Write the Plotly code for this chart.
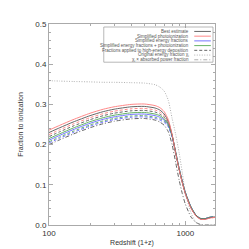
import plotly.graph_objects as go

z = [100, 120, 150, 200, 250, 300, 400, 500, 600, 650, 700, 750, 800, 850, 900, 950, 1000, 1100, 1200, 1300, 1400, 1500, 1650]

best = [0.230, 0.242, 0.256, 0.272, 0.282, 0.288, 0.294, 0.295, 0.291, 0.286, 0.276, 0.258, 0.224, 0.179, 0.139, 0.106, 0.079, 0.043, 0.023, 0.015, 0.015, 0.018, 0.020]
simp_photo = [0.236, 0.248, 0.262, 0.278, 0.288, 0.294, 0.300, 0.301, 0.297, 0.292, 0.282, 0.262, 0.225, 0.178, 0.138, 0.105, 0.078, 0.042, 0.022, 0.014, 0.014, 0.017, 0.019]
simp_energy = [0.211, 0.223, 0.237, 0.253, 0.263, 0.269, 0.275, 0.276, 0.272, 0.268, 0.261, 0.248, 0.221, 0.181, 0.141, 0.108, 0.081, 0.045, 0.024, 0.016, 0.016, 0.019, 0.021]
simp_both = [0.215, 0.227, 0.241, 0.257, 0.267, 0.273, 0.279, 0.280, 0.276, 0.272, 0.264, 0.250, 0.222, 0.181, 0.141, 0.108, 0.081, 0.045, 0.024, 0.016, 0.016, 0.019, 0.021]

best_hi = [0.220, 0.232, 0.246, 0.262, 0.272, 0.278, 0.284, 0.285, 0.281, 0.276, 0.268, 0.252, 0.221, 0.179, 0.139, 0.106, 0.079, 0.043, 0.023, 0.015, 0.015, 0.018, 0.020]
simp_photo_hi = [0.225, 0.237, 0.251, 0.267, 0.277, 0.283, 0.289, 0.290, 0.286, 0.281, 0.272, 0.255, 0.222, 0.178, 0.138, 0.105, 0.078, 0.042, 0.022, 0.014, 0.014, 0.017, 0.019]
simp_energy_hi = [0.204, 0.216, 0.230, 0.246, 0.256, 0.262, 0.268, 0.269, 0.265, 0.261, 0.255, 0.244, 0.219, 0.181, 0.141, 0.108, 0.081, 0.045, 0.024, 0.016, 0.016, 0.019, 0.021]
simp_both_hi = [0.207, 0.219, 0.233, 0.249, 0.259, 0.265, 0.271, 0.272, 0.268, 0.264, 0.258, 0.246, 0.220, 0.181, 0.141, 0.108, 0.081, 0.045, 0.024, 0.016, 0.016, 0.019, 0.021]

chi_orig = [0.359, 0.358, 0.357, 0.356, 0.355, 0.355, 0.354, 0.353, 0.349, 0.343, 0.333, 0.310, 0.265, 0.225, 0.180, 0.130, 0.080, 0.030, 0.006, 0.001, 0.0, 0.0, 0.0]
chi_absorbed = [0.200, 0.212, 0.226, 0.242, 0.252, 0.258, 0.264, 0.265, 0.261, 0.256, 0.248, 0.232, 0.200, 0.155, 0.112, 0.078, 0.052, 0.020, 0.006, 0.001, 0.0, 0.0, 0.0]

legend_labels = ["Best estimate", "Simplified photoionization", "Simplified energy fractions",
                 "Simplified energy fractions + photoionization",
                 "Fractions applied to high-energy deposition",
                 "Original energy fraction χ<sub>i</sub>",
                 "χ<sub>i</sub> × absorbed power fraction"]

BLACK = "#555555"
RED = "#ff7a7a"
BLUE = "#6666ff"
GREEN = "#55aa55"
GRAY = "#a8a8a8"
DASH = "3px,2px"
DOT = "1px,1.5px"
DASHDOT = "4px,2px,1px,2px"

series = [
    (simp_photo_hi, RED, DASH),
    (best_hi, BLACK, DASH),
    (simp_both_hi, GREEN, DASH),
    (simp_energy_hi, BLUE, DASH),
    (chi_absorbed, BLACK, DASHDOT),
    (chi_orig, GRAY, DOT),
    (simp_energy, BLUE, "solid"),
    (simp_both, GREEN, "solid"),
    (best, BLACK, "solid"),
    (simp_photo, RED, "solid"),
]

fig = go.Figure()
for ys, col, dash in series:
    fig.add_trace(go.Scatter(x=z, y=ys, mode="lines", showlegend=False,
                             line=dict(color=col, width=0.9, dash=dash, shape="spline", smoothing=0.6)))

# custom legend (text right-aligned, sample line on the right)
leg_styles = [(BLACK, "solid"), (RED, "solid"), (BLUE, "solid"), (GREEN, "solid"),
              (BLACK, DASH), (GRAY, DOT), (GRAY, DASHDOT)]
y0 = 0.963
dy = 0.0235
for i, (lab, (col, dash)) in enumerate(zip(legend_labels, leg_styles)):
    yy = y0 - i * dy
    fig.add_annotation(xref="paper", yref="paper", x=0.855, y=yy, text=lab, showarrow=False,
                       xanchor="right", yanchor="middle", font=dict(size=4.5, color="#555555"))
    fig.add_shape(type="line", xref="paper", yref="paper", x0=0.875, x1=0.975, y0=yy, y1=yy,
                  line=dict(color=col, width=0.9, dash=dash))
fig.add_shape(type="rect", xref="paper", yref="paper", x0=0.33, x1=0.988, y0=0.81, y1=0.985,
              line=dict(color="#999999", width=0.7))

axis_common = dict(showline=True, linecolor="#aaaaaa", linewidth=1, mirror="ticks",
                   ticks="inside", tickcolor="#aaaaaa", ticklen=4, showgrid=False, zeroline=False,
                   tickfont=dict(size=8, color="#333333"))

fig.update_xaxes(type="log", range=[2, 3.2175], tickvals=[100, 1000], ticktext=["100", "1000"],
                 title=dict(text="Redshift (1+z)", font=dict(size=7, color="#333333"), standoff=3),
                 minor=dict(ticks="inside", ticklen=2, tickcolor="#aaaaaa",
                            tickvals=[200, 300, 400, 500, 600, 700, 800, 900]),
                 **axis_common)
fig.update_yaxes(range=[0, 0.5], dtick=0.1, tickformat=".1f",
                 title=dict(text="Fraction to ionization", font=dict(size=7, color="#333333"), standoff=10),
                 minor=dict(ticks="inside", ticklen=2, tickcolor="#aaaaaa", dtick=0.02),
                 **axis_common)

fig.update_layout(width=249, height=249, margin=dict(l=41, r=42, t=13, b=27),
                  paper_bgcolor="white", plot_bgcolor="white",
                  font=dict(family="Liberation Sans, Arial, sans-serif"))

fig.write_html("out.html")
